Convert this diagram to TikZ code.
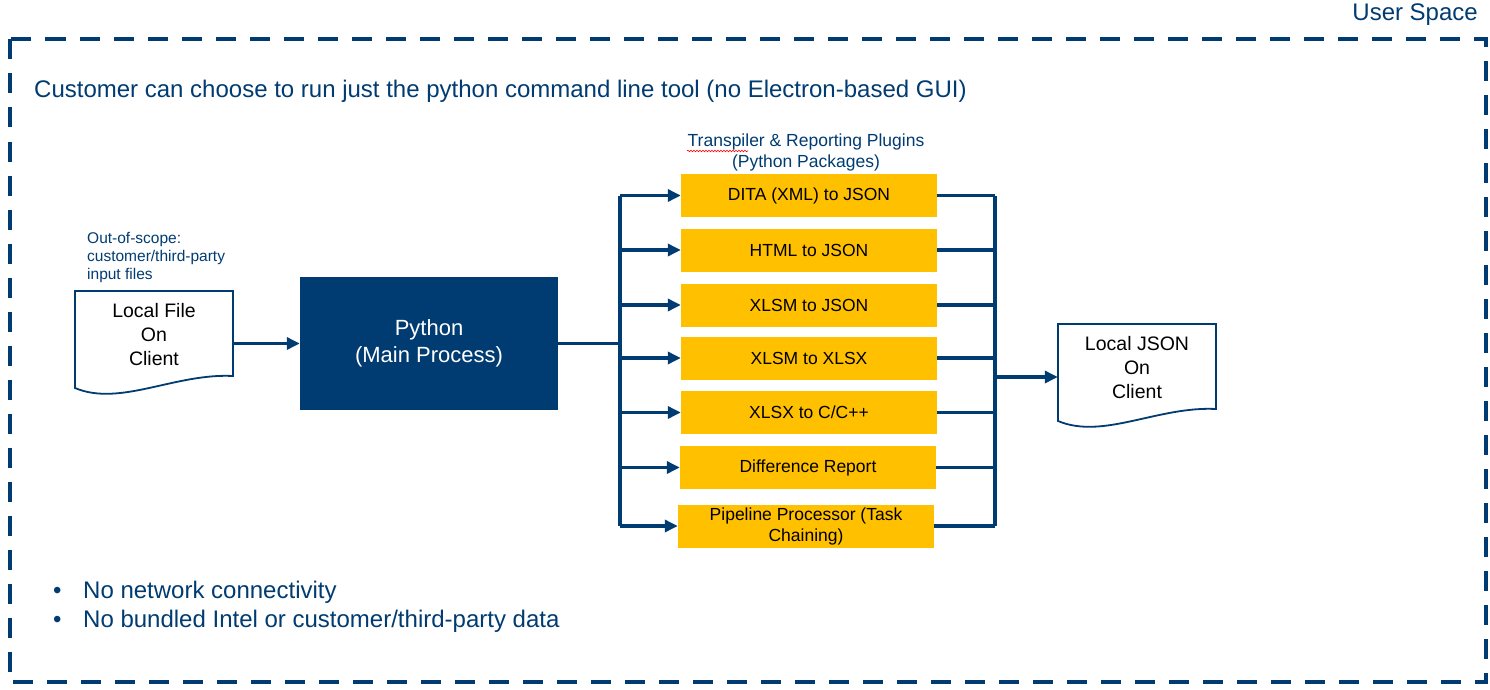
\documentclass[tikz,border=0pt]{standalone}
\usepackage{fontspec}
\setmainfont{Liberation Sans}
\usetikzlibrary{arrows.meta,decorations.pathmorphing}
\definecolor{navy}{HTML}{003B71}
\definecolor{gold}{HTML}{FFC000}
\begin{document}
\begin{tikzpicture}[x=1pt,y=-1pt,
  plugin/.style={fill=gold,minimum width=256pt,minimum height=43pt,inner sep=0pt,align=center,font=\fontsize{17.5}{21}\selectfont},
  docnode/.style={minimum width=158pt,minimum height=86pt,inner sep=0pt,align=center,font=\fontsize{19.5}{24}\selectfont},
  link/.style={navy,line width=3.8pt},
  arr/.style={link,-{Triangle[length=13pt,width=12pt]}},
  note/.style={text=navy,inner sep=0pt,align=left},
  docshape/.pic={\draw[navy,line width=1.8pt,fill=white] (0,0) -- (158,0) -- (158,85)
    .. controls (100,82) and (45,116) .. (0,97) -- cycle;}]
\useasboundingbox (0,0) rectangle (1490,690);
\draw[navy,line width=4pt,dash pattern=on 20pt off 14pt] (9.5,39.5) rectangle (1486,682);
\node[note,anchor=east,font=\fontsize{24}{28}\selectfont] (space) at (1478,15) {User Space};
\node[note,anchor=west,font=\fontsize{24}{28}\selectfont] (title) at (34,91) {Customer can choose to run just the python command line tool (no Electron-based GUI)};
% input and output files
\node[note,anchor=west,font=\fontsize{15.5}{18}\selectfont] (scope) at (87,257) {Out-of-scope:\\customer/third-party\\input files};
\pic at (75,291) {docshape};
\node[docnode] (file) at (154,335) {Local File\\On\\Client};
\pic at (1058,324) {docshape};
\node[docnode] (json) at (1137,368) {Local JSON\\On\\Client};
\node[fill=navy,text=white,minimum width=258pt,minimum height=133pt,align=center,font=\fontsize{22}{27}\selectfont] (py) at (429,343.5) {Python\\(Main Process)};
% plugins
\node[note,align=center,font=\fontsize{17.5}{21}\selectfont] (plugins) at (806,152.5) {Transpiler \& Reporting Plugins\\(Python Packages)};
\draw[red,line width=0.6pt,decorate,decoration={snake,amplitude=0.8pt,segment length=3pt}] (687,151) -- (748,151);
\foreach \i/\x/\y/\t in {1/809/195.5/{DITA (XML) to JSON},2/809/250/{HTML to JSON},3/809/305/{XLSM to JSON},
  4/809/358/{XLSM to XLSX},5/809/412.5/{XLSX to C/C++},6/808/467.5/{Difference Report},
  7/806/526/{Pipeline Processor (Task\\Chaining)}}
  \node[plugin] (p\i) at (\x,\y) {\t};
\coordinate (splitL) at (620,343.5);
\coordinate (joinR) at (995,377);
\draw[arr] (py.west -| file.east) -- (py.west);
\draw[link] (py.east) -- (splitL);
\draw[link] (splitL |- p1.west) -- (splitL |- p7.west);
\draw[link] (joinR |- p1.east) -- (joinR |- p7.east);
\foreach \i in {1,...,7} {
  \draw[arr] (splitL |- p\i.west) -- (p\i.west);
  \draw[link] (p\i.east) -- (joinR |- p\i.east);
}
\draw[arr] (joinR) -- (joinR -| json.west);
% notes
\node[note,anchor=west,font=\fontsize{24}{29}\selectfont] (bul1) at (53,592) {\makebox[30pt][l]{\textbullet}No network connectivity};
\node[note,anchor=west,font=\fontsize{24}{29}\selectfont] (bul2) at (53,621) {\makebox[30pt][l]{\textbullet}No bundled Intel or customer/third-party data};
\end{tikzpicture}
\end{document}
